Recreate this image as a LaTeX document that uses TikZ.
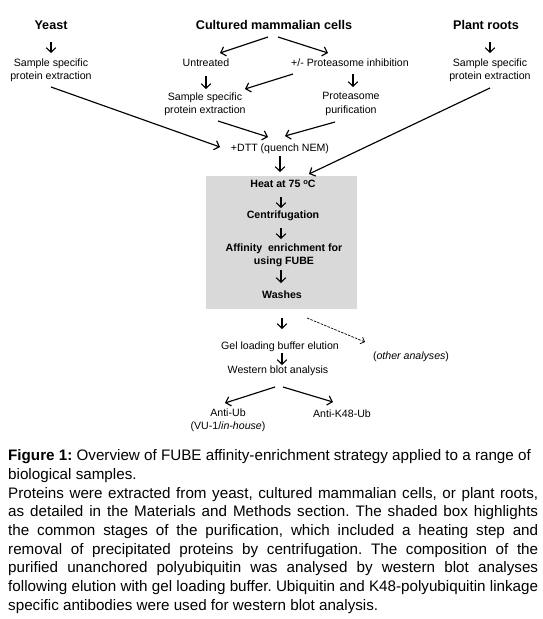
\documentclass[tikz,border=0pt]{standalone}
\usepackage{fontspec}
\setmainfont{Liberation Sans}
\usetikzlibrary{arrows.meta,calc}
\definecolor{boxgray}{HTML}{D9D9D9}
\frenchspacing
\tikzset{
  lbl/.style={font=\fontsize{10.6}{13.2}\selectfont, align=center, inner sep=0pt},
  ttl/.style={font=\bfseries\fontsize{12.6}{15}\selectfont, inner sep=0pt},
  blbl/.style={font=\bfseries\fontsize{10.6}{13.2}\selectfont, align=center, inner sep=0pt},
  arr/.style={line width=1.15pt, -{Straight Barb[length=4.5pt,width=9.5pt,line width=1.15pt]}},
  darr/.style={line width=0.7pt, dashed, dash pattern=on 2.5pt off 1.2pt, -{Straight Barb[length=3.5pt,width=7pt,line width=0.7pt]}},
  capt/.style={font=\fontsize{15.2}{18.67}\selectfont, inner sep=0pt, anchor=base west},
}
\begin{document}
\begin{tikzpicture}[x=1pt,y=-1pt]
\path[use as bounding box, fill=white] (0,0) rectangle (542,619);
% shaded box
\node[fill=boxgray, inner sep=0pt, minimum width=151pt, minimum height=133pt, anchor=north west] (shade) at (206,176) {};
% titles
\node[ttl] (yeast) at (51,25) {Yeast};
\node[ttl] (cmc) at (274,25) {Cultured mammalian cells};
\node[ttl] (plant) at (486,25) {Plant roots};
% first level
\node[lbl] (ys) at (51,70) {Sample specific\\protein extraction};
\node[lbl] (untr) at (206,63) {Untreated};
\node[lbl] (pinh) at (350,63) {+/- Proteasome inhibition};
\node[lbl] (ps) at (490,70) {Sample specific\\protein extraction};
\node[lbl] (ms) at (205,104) {Sample specific\\protein extraction};
\node[lbl] (pp) at (351,104) {Proteasome\\purification};
\node[lbl] (dtt) at (280,149) {+DTT (quench NEM)};
% box contents
\node[blbl] (heat) at (283,184) {Heat at 75 {\fontsize{7.5}{8}\selectfont\raisebox{3pt}{o}}C};
\node[blbl] (cent) at (283,216) {Centrifugation};
\node[blbl] (aff) at (284,255.5) {Affinity\ \ enrichment for\\using FUBE};
\node[blbl] (wash) at (282,295) {Washes};
% below box
\node[lbl] (gel) at (280,347) {Gel loading buffer elution};
\node[lbl] (other) at (411,357) {(\textit{other analyses})};
\node[lbl] (wb) at (278,371) {Western blot analysis};
\node[lbl] (antiub) at (228,420) {Anti-Ub\\(VU-1/\textit{in-house})};
\node[lbl] (antik) at (342,414) {Anti-K48-Ub};
% arrows
\draw[arr] ($(yeast)+(0,17)$) -- ($(ys)+(0,-17)$);
\draw[arr] ($(cmc)+(-6,12)$) -- ($(untr)+(14,-10)$);
\draw[arr] ($(cmc)+(4,12)$) -- ($(pinh)+(-22,-10)$);
\draw[arr] ($(plant)+(4,17)$) -- ($(ps)+(0,-17)$);
\draw[arr] ($(untr)+(0,13)$) -- ($(ms)+(1,-15)$);
\draw[arr] ($(pinh)+(-57,11)$) -- ($(ms)+(40,-15)$);
\draw[arr] ($(pinh)+(3,11)$) -- ($(pp)+(2,-17)$);
\draw[arr] ($(ys)+(0,17)$) -- ($(dtt)+(-60,-2)$);
\draw[arr] ($(ms)+(13,17)$) -- ($(dtt)+(-12,-12)$);
\draw[arr] ($(pp)+(-16,18)$) -- ($(dtt)+(5,-13)$);
\draw[arr] ($(ps)+(0,18)$) -- ($(heat)+(26,-10)$);
\draw[arr] ($(dtt)+(0,7)$) -- ($(heat)+(-3,-12)$);
\draw[arr] ($(heat)+(-2,13)$) -- ($(cent)+(-2,-8)$);
\draw[arr] ($(cent)+(-2,12)$) -- ($(aff)+(-3,-16.5)$);
\draw[arr] ($(aff)+(-3,14.5)$) -- ($(wash)+(-1,-12)$);
\draw[arr] ($(wash)+(0,23)$) -- ($(gel)+(2,-18)$);
\draw[darr] ($(wash)+(25,23)$) -- ($(other)+(-46,-15)$);
\draw[arr] ($(gel)+(2,6)$) -- ($(wb)+(4,-6)$);
\draw[arr] ($(wb)+(-3,16)$) -- ($(antiub)+(-3,-17)$);
\draw[arr] ($(wb)+(5,16)$) -- ($(antik)+(-9,-12)$);
% caption
\node[capt] (cap) at (8,460.7) {\parbox[t]{530pt}{%
\textbf{Figure 1:} Overview of FUBE affinity-enrichment strategy applied to a range of\\
biological samples.\\
\makebox[\linewidth][s]{Proteins were extracted from yeast, cultured mammalian cells, or plant roots,}\\
\makebox[\linewidth][s]{as detailed in the Materials and Methods section. The shaded box highlights}\\
\makebox[\linewidth][s]{the common stages of the purification, which included a heating step and}\\
\makebox[\linewidth][s]{removal of precipitated proteins by centrifugation. The composition of the}\\
\makebox[\linewidth][s]{purified unanchored polyubiquitin was analysed by western blot analyses}\\
\makebox[\linewidth][s]{following elution with gel loading buffer. Ubiquitin and K48-polyubiquitin linkage}\\
specific antibodies were used for western blot analysis.}};
\end{tikzpicture}
\end{document}
